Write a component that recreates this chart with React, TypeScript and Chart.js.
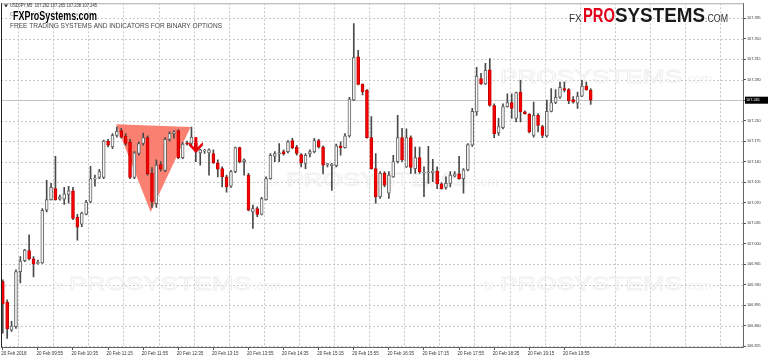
import React, { useEffect, useRef } from 'react';
import { Chart, registerables } from 'chart.js';

Chart.register(...registerables);

const SYMBOL = 'USDJPY,M5';
const BRAND = 'FXProSystems.com';
const COPYRIGHT = 'Copyright © 2018, FXProSystems.com';
const TAGLINE = 'FREE TRADING SYSTEMS AND INDICATORS FOR BINARY OPTIONS';

// M5 candles, 20 Feb 2018 from 09:15
const OPEN = [
  106.935, 106.900, 106.852, 106.858, 106.952, 106.971, 106.988, 106.974, 106.966, 106.967,
  107.057, 107.075, 107.094, 107.076, 107.076, 107.084, 107.090, 107.045, 107.033, 107.050,
  107.071, 107.110, 107.113, 107.113, 107.175, 107.165, 107.185, 107.193, 107.184, 107.174,
  107.113, 107.154, 107.171, 107.181, 107.120, 107.068, 107.135, 107.125, 107.178, 107.188,
  107.193, 107.147, 107.172, 107.171, 107.172, 107.155, 107.158, 107.155, 107.154, 107.138,
  107.128, 107.114, 107.098, 107.123, 107.164, 107.140, 107.117, 107.054, 107.060, 107.050,
  107.075, 107.111, 107.149, 107.153, 107.157, 107.157, 107.176, 107.165, 107.152, 107.137,
  107.153, 107.157, 107.176, 107.165, 107.135, 107.133, 107.133, 107.167, 107.164, 107.184,
  107.245, 107.319, 107.272, 107.262, 107.181, 107.128, 107.080, 107.120, 107.086, 107.114,
  107.140, 107.181, 107.131, 107.181, 107.128, 107.147, 107.121, 107.121, 107.121, 107.124,
  107.102, 107.096, 107.103, 107.115, 107.119, 107.111, 107.126, 107.168, 107.225, 107.282,
  107.273, 107.297, 107.236, 107.189, 107.198, 107.234, 107.241, 107.214, 107.259, 107.225,
  107.221, 107.185, 107.219, 107.200, 107.184, 107.226, 107.241, 107.250, 107.265, 107.263,
  107.246, 107.240, 107.252, 107.269, 107.262,
];
const HIGH = [
  106.938, 106.904, 106.867, 106.955, 106.978, 106.990, 107.015, 106.978, 106.972, 107.060,
  107.108, 107.103, 107.149, 107.083, 107.096, 107.098, 107.096, 107.050, 107.054, 107.074,
  107.132, 107.117, 107.127, 107.177, 107.178, 107.188, 107.199, 107.197, 107.188, 107.178,
  107.157, 107.174, 107.189, 107.184, 107.130, 107.143, 107.140, 107.181, 107.191, 107.193,
  107.195, 107.173, 107.175, 107.199, 107.174, 107.161, 107.161, 107.162, 107.160, 107.143,
  107.131, 107.117, 107.125, 107.165, 107.165, 107.145, 107.120, 107.066, 107.063, 107.079,
  107.114, 107.154, 107.157, 107.171, 107.160, 107.176, 107.180, 107.168, 107.154, 107.154,
  107.160, 107.180, 107.178, 107.167, 107.137, 107.137, 107.170, 107.174, 107.188, 107.250,
  107.376, 107.330, 107.273, 107.263, 107.217, 107.154, 107.123, 107.123, 107.123, 107.151,
  107.219, 107.197, 107.196, 107.184, 107.165, 107.165, 107.131, 107.166, 107.144, 107.131,
  107.104, 107.114, 107.123, 107.123, 107.149, 107.128, 107.171, 107.231, 107.301, 107.291,
  107.308, 107.316, 107.239, 107.214, 107.239, 107.256, 107.256, 107.259, 107.279, 107.227,
  107.222, 107.242, 107.222, 107.202, 107.245, 107.265, 107.263, 107.276, 107.276, 107.265,
  107.251, 107.259, 107.279, 107.276, 107.265,
];
const LOW = [
  106.847, 106.838, 106.850, 106.855, 106.933, 106.969, 106.972, 106.943, 106.965, 106.966,
  107.054, 107.074, 107.074, 107.074, 107.067, 107.069, 107.041, 107.006, 107.029, 107.049,
  107.070, 107.098, 107.111, 107.111, 107.165, 107.162, 107.182, 107.180, 107.168, 107.111,
  107.111, 107.151, 107.168, 107.117, 107.062, 107.062, 107.124, 107.123, 107.175, 107.180,
  107.145, 107.145, 107.168, 107.168, 107.140, 107.134, 107.154, 107.117, 107.137, 107.114,
  107.097, 107.088, 107.096, 107.121, 107.138, 107.117, 107.056, 107.026, 107.046, 107.049,
  107.074, 107.110, 107.140, 107.140, 107.151, 107.155, 107.162, 107.151, 107.131, 107.128,
  107.148, 107.155, 107.163, 107.119, 107.131, 107.091, 107.131, 107.151, 107.163, 107.182,
  107.244, 107.271, 107.254, 107.180, 107.127, 107.069, 107.077, 107.097, 107.077, 107.113,
  107.138, 107.140, 107.130, 107.120, 107.120, 107.120, 107.080, 107.103, 107.106, 107.094,
  107.093, 107.093, 107.097, 107.114, 107.110, 107.086, 107.124, 107.166, 107.219, 107.272,
  107.272, 107.235, 107.181, 107.185, 107.196, 107.233, 107.214, 107.208, 107.208, 107.221,
  107.189, 107.182, 107.191, 107.181, 107.182, 107.225, 107.239, 107.248, 107.259, 107.239,
  107.240, 107.231, 107.251, 107.262, 107.238,
];
const CLOSE = [
  106.897, 106.854, 106.859, 106.952, 106.970, 106.989, 106.974, 106.965, 106.968, 107.057,
  107.075, 107.096, 107.075, 107.080, 107.085, 107.090, 107.043, 107.028, 107.052, 107.071,
  107.111, 107.112, 107.123, 107.175, 107.168, 107.185, 107.192, 107.182, 107.171, 107.113,
  107.155, 107.171, 107.181, 107.119, 107.072, 107.134, 107.127, 107.178, 107.188, 107.191,
  107.147, 107.170, 107.170, 107.182, 107.158, 107.160, 107.158, 107.160, 107.138, 107.127,
  107.114, 107.097, 107.123, 107.164, 107.140, 107.143, 107.057, 107.060, 107.050, 107.077,
  107.111, 107.151, 107.154, 107.155, 107.153, 107.174, 107.164, 107.154, 107.138, 107.151,
  107.157, 107.176, 107.165, 107.134, 107.135, 107.136, 107.167, 107.164, 107.184, 107.247,
  107.318, 107.272, 107.259, 107.181, 107.128, 107.080, 107.120, 107.100, 107.117, 107.140,
  107.181, 107.143, 107.181, 107.130, 107.147, 107.123, 107.122, 107.122, 107.124, 107.102,
  107.094, 107.103, 107.117, 107.119, 107.111, 107.126, 107.169, 107.226, 107.286, 107.273,
  107.296, 107.236, 107.188, 107.200, 107.234, 107.241, 107.231, 107.258, 107.225, 107.222,
  107.191, 107.219, 107.202, 107.185, 107.226, 107.241, 107.250, 107.267, 107.262, 107.244,
  107.242, 107.252, 107.269, 107.263, 107.245,
];

const X_TICK_BARS = [0, 8, 16, 24, 32, 40, 48, 56, 64, 72, 80, 88, 96, 104, 112, 120, 128];
const X_LABELS = [
  '20 Feb 2018', '20 Feb 09:55', '20 Feb 10:35', '20 Feb 11:15', '20 Feb 11:55', '20 Feb 12:35',
  '20 Feb 13:15', '20 Feb 13:55', '20 Feb 14:35', '20 Feb 15:15', '20 Feb 15:55', '20 Feb 16:35',
  '20 Feb 17:15', '20 Feb 17:55', '20 Feb 18:35', '20 Feb 19:15', '20 Feb 19:55',
];
const Y_TICKS = [
  107.385, 107.35, 107.315, 107.28, 107.245, 107.21, 107.175, 107.14, 107.105,
  107.07, 107.035, 107.0, 106.965, 106.93, 106.895, 106.86, 106.825,
];
const BID = 107.245;
// triangle pattern vertices: [bar index, price]
const TRIANGLE_BARS = [25.8, 42.8, 33.7];
const TRIANGLE_PRICES = [107.204, 107.199, 107.054];
const ARROW_BAR = 44;
const ARROW_PRICE = 107.182;

const X_MIN = -0.41;
const X_MAX = 168.94;
const Y_MIN = 106.8216;
const Y_MAX = 107.4106;

const FONT = 'Liberation Sans';

function drawWatermark(ctx: CanvasRenderingContext2D, x: number, base: number) {
  ctx.save();
  ctx.fillStyle = '#f1f1f1';
  ctx.strokeStyle = '#eeeeee';
  ctx.lineWidth = 0.8;
  ctx.textAlign = 'left';
  ctx.textBaseline = 'alphabetic';
  ctx.font = `12px ${FONT}`;
  ctx.fillText('fx', x, base);
  ctx.font = `18px ${FONT}`;
  const w = ctx.measureText('PROSYSTEMS').width;
  ctx.save();
  ctx.translate(x + 16, base);
  ctx.scale(182 / w, 1);
  ctx.strokeText('PROSYSTEMS', 0, 0);
  ctx.restore();
  ctx.font = `13px ${FONT}`;
  ctx.fillText('.com', x + 200, base);
  ctx.restore();
}

const decor = {
  id: 'decor',
  beforeDatasetsDraw(chart: any) {
    const { ctx, chartArea: a, scales } = chart;
    const xs = scales.x;
    const ys = scales.y;
    ctx.save();
    ctx.beginPath();
    ctx.rect(a.left, a.top, a.right - a.left, a.bottom - a.top);
    ctx.clip();
    // dotted grid
    ctx.strokeStyle = '#c9c9c9';
    ctx.lineWidth = 1;
    ctx.setLineDash([2, 2]);
    Y_TICKS.forEach((v) => {
      const py = Math.round(ys.getPixelForValue(v)) + 0.5;
      ctx.beginPath();
      ctx.moveTo(a.left, py);
      ctx.lineTo(a.right, py);
      ctx.stroke();
    });
    for (let b = 3.5; b < X_MAX; b += 8) {
      const px = Math.round(xs.getPixelForValue(b)) + 0.5;
      ctx.beginPath();
      ctx.moveTo(px, a.top);
      ctx.lineTo(px, a.bottom);
      ctx.stroke();
    }
    ctx.setLineDash([]);
    // watermarks
    drawWatermark(ctx, 484, 83);
    drawWatermark(ctx, 270, 186);
    drawWatermark(ctx, 53, 290);
    drawWatermark(ctx, 484, 290);
    // bid line
    const by = Math.round(ys.getPixelForValue(BID)) + 0.5;
    ctx.strokeStyle = '#c4c4c4';
    ctx.beginPath();
    ctx.moveTo(a.left, by);
    ctx.lineTo(a.right, by);
    ctx.stroke();
    // triangle
    ctx.fillStyle = '#fa8072';
    ctx.beginPath();
    TRIANGLE_BARS.forEach((b, i) => {
      const px = xs.getPixelForValue(b);
      const py = ys.getPixelForValue(TRIANGLE_PRICES[i]);
      if (i === 0) ctx.moveTo(px, py);
      else ctx.lineTo(px, py);
    });
    ctx.closePath();
    ctx.fill();
    ctx.restore();
  },
  afterDatasetsDraw(chart: any) {
    const { ctx, scales } = chart;
    const ax = scales.x.getPixelForValue(ARROW_BAR);
    const ay = scales.y.getPixelForValue(ARROW_PRICE);
    ctx.save();
    ctx.fillStyle = '#e8000b';
    ctx.fillRect(ax - 1.5, ay, 3, 12);
    ctx.beginPath();
    ctx.moveTo(ax - 7, ay + 5);
    ctx.lineTo(ax, ay + 12);
    ctx.lineTo(ax + 7, ay + 5);
    ctx.lineTo(ax + 7, ay + 8.5);
    ctx.lineTo(ax, ay + 16);
    ctx.lineTo(ax - 7, ay + 8.5);
    ctx.closePath();
    ctx.fill();
    ctx.restore();
  },
  afterDraw(chart: any) {
    const { ctx, chartArea: a, scales } = chart;
    ctx.save();
    // frame
    ctx.lineWidth = 1;
    ctx.strokeStyle = '#aaaaaa';
    ctx.beginPath();
    ctx.moveTo(a.left, a.top + 0.5);
    ctx.lineTo(a.right, a.top + 0.5);
    ctx.stroke();
    ctx.strokeStyle = '#222222';
    ctx.beginPath();
    ctx.moveTo(a.left + 0.5, a.top);
    ctx.lineTo(a.left + 0.5, a.bottom);
    ctx.stroke();
    ctx.strokeStyle = '#666666';
    ctx.beginPath();
    ctx.moveTo(a.right - 0.5, a.top);
    ctx.lineTo(a.right - 0.5, a.bottom - 0.5);
    ctx.lineTo(a.left, a.bottom - 0.5);
    ctx.stroke();

    // current price label
    const py = scales.y.getPixelForValue(BID);
    ctx.fillStyle = '#000';
    ctx.fillRect(a.right + 1, py - 3.5, 768 - a.right - 1, 7);
    ctx.fillStyle = '#fff';
    ctx.font = `3.8px ${FONT}`;
    ctx.textBaseline = 'middle';
    ctx.textAlign = 'left';
    ctx.fillText(BID.toFixed(3), a.right + 2, py);

    // header
    const last = OPEN.length - 1;
    const header = `${SYMBOL}  ${OPEN[last].toFixed(3)} ${HIGH[last].toFixed(3)} ${LOW[last].toFixed(3)} ${CLOSE[last].toFixed(3)}`;
    ctx.fillStyle = '#333';
    ctx.beginPath();
    ctx.moveTo(4, 4.5);
    ctx.lineTo(8, 4.5);
    ctx.lineTo(6, 7.5);
    ctx.closePath();
    ctx.fill();
    ctx.font = `5px ${FONT}`;
    ctx.fillText(header, 10, 6, 87);
    ctx.fillStyle = '#777';
    ctx.fillText(COPYRIGHT, 10, 15, 100);
    ctx.textBaseline = 'alphabetic';
    ctx.font = `bold 12.5px ${FONT}`;
    ctx.lineWidth = 2;
    ctx.strokeStyle = '#ffffff';
    ctx.strokeText(BRAND, 13, 19.5, 84);
    ctx.fillStyle = '#000';
    ctx.fillText(BRAND, 13, 19.5, 84);
    ctx.font = `6.8px ${FONT}`;
    ctx.fillStyle = '#444';
    ctx.fillText(TAGLINE, 10, 28.3, 212);

    // top-right logo
    ctx.font = `10px ${FONT}`;
    ctx.fillStyle = '#333';
    ctx.fillText('FX', 569, 21.7, 13);
    ctx.font = `bold 20px ${FONT}`;
    ctx.fillStyle = '#e0001a';
    ctx.fillText('PRO', 583, 21.7, 32);
    ctx.fillStyle = '#1a1a1a';
    ctx.fillText('SYSTEMS', 615, 21.7, 90);
    ctx.font = `10px ${FONT}`;
    ctx.fillStyle = '#333';
    ctx.fillText('.COM', 705, 21.7, 23);
    ctx.restore();
  },
};

const isBull = (i: number) => CLOSE[i] >= OPEN[i];

export default function App() {
  const ref = useRef<HTMLCanvasElement | null>(null);
  useEffect(() => {
    if (!ref.current) return;
    const bodies = OPEN.map((o, i) => ({ x: i, y: [o, CLOSE[i]] }));
    const wicks = OPEN.map((_, i) => ({ x: i, y: [LOW[i], HIGH[i]] }));
    const chart = new Chart(ref.current, {
      type: 'bar',
      data: {
        datasets: [
          {
            label: 'Body',
            data: bodies as any,
            order: 0,
            grouped: false,
            barThickness: 3,
            minBarLength: 1,
            borderWidth: 1,
            borderSkipped: false,
            backgroundColor: (c: any) => (isBull(c.dataIndex) ? '#f4f4f4' : '#ff0000'),
            borderColor: (c: any) => (isBull(c.dataIndex) ? '#666666' : '#c40000'),
          } as any,
          {
            label: 'Wick',
            data: wicks as any,
            order: 1,
            grouped: false,
            barThickness: 1,
            borderWidth: 0,
            backgroundColor: '#4a4a4a',
          } as any,
        ],
      },
      options: {
        animation: false,
        responsive: false,
        events: [],
        layout: { padding: { left: 1, top: 3, right: 0, bottom: 0 } },
        plugins: { legend: { display: false }, tooltip: { enabled: false } },
        scales: {
          x: {
            type: 'linear',
            min: X_MIN,
            max: X_MAX,
            offset: false,
            bounds: 'data',
            grid: { offset: false, drawOnChartArea: false, drawTicks: true, tickLength: 2, color: '#555' },
            border: { display: false },
            afterBuildTicks: (s: any) => {
              s.ticks = X_TICK_BARS.map((v) => ({ value: v }));
            },
            afterFit: (s: any) => {
              s.height = 12;
            },
            ticks: {
              autoSkip: false,
              maxRotation: 0,
              minRotation: 0,
              align: 'start',
              padding: 1,
              labelOffset: -1.5,
              color: '#333',
              font: { family: FONT, size: 4.5 },
              callback: (_v: any, i: number) => X_LABELS[i],
            },
          } as any,
          y: {
            type: 'linear',
            position: 'right',
            min: Y_MIN,
            max: Y_MAX,
            bounds: 'data',
            beginAtZero: false,
            grid: { drawOnChartArea: false, drawTicks: true, tickLength: 2, color: '#555' },
            border: { display: false },
            afterBuildTicks: (s: any) => {
              s.ticks = Y_TICKS.map((v) => ({ value: v }));
            },
            afterFit: (s: any) => {
              s.width = 24;
            },
            ticks: {
              autoSkip: false,
              padding: 1,
              color: '#333',
              font: { family: FONT, size: 3.8 },
              callback: (v: any) => Number(v).toFixed(3),
            },
          } as any,
        },
      },
      plugins: [decor],
    });
    return () => chart.destroy();
  }, []);
  return (
    <div style={{ position: 'absolute', left: 0, top: 0, width: 768, height: 360, background: '#fff' }}>
      <canvas ref={ref} width={768} height={360} style={{ display: 'block' }} />
    </div>
  );
}
